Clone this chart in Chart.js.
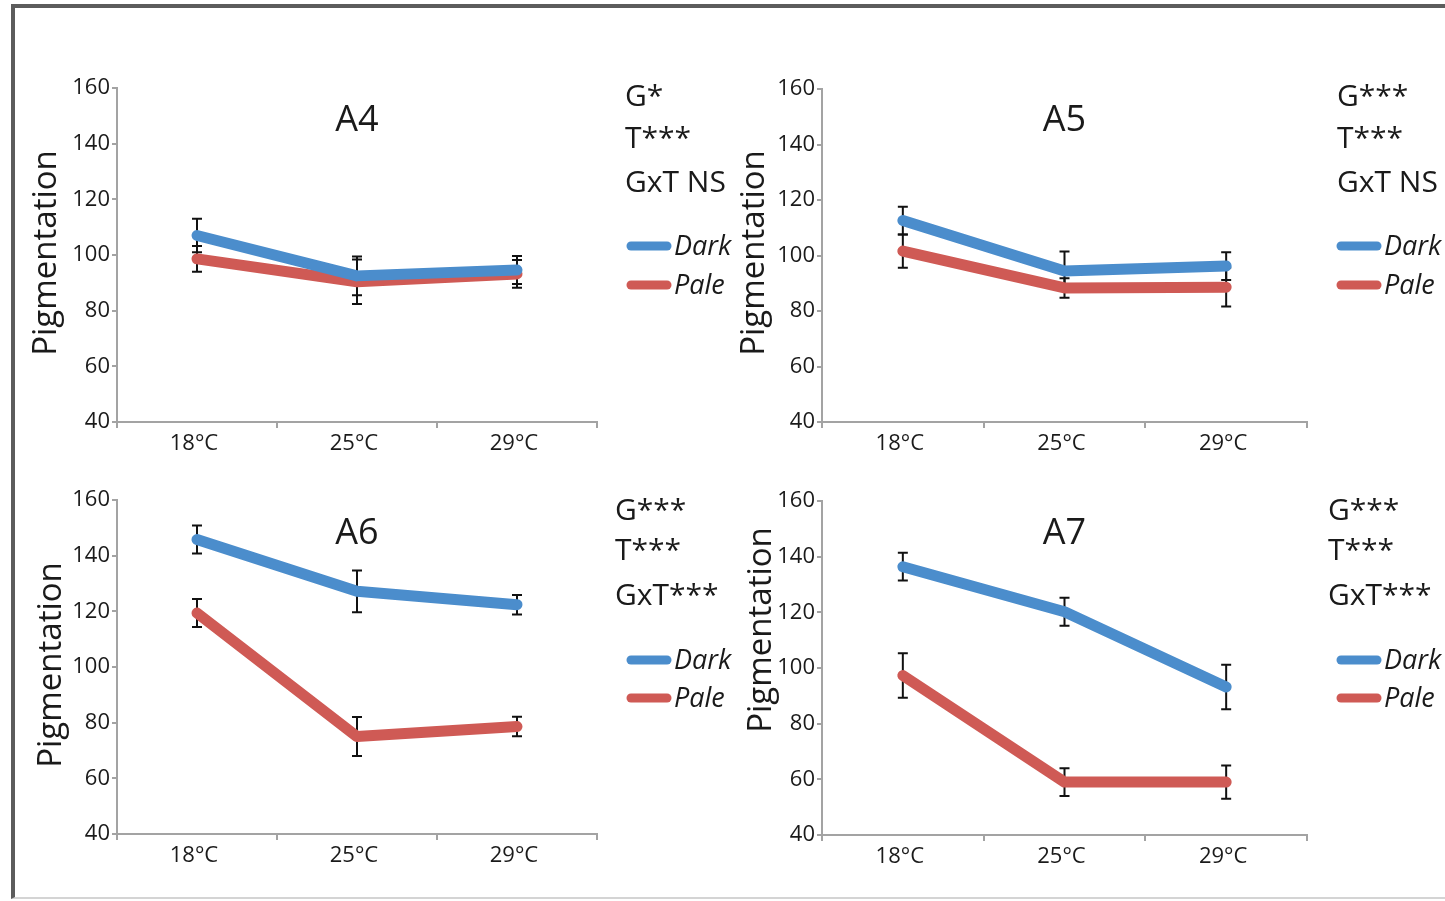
<!DOCTYPE html>
<html><head><meta charset="utf-8">
<script src="https://cdn.jsdelivr.net/npm/chart.js@4.4.1/dist/chart.umd.min.js"></script>
<style>
html,body{margin:0;padding:0;background:#fff;width:1445px;height:901px;overflow:hidden}
#frame{position:absolute;left:11px;top:4px;width:1460px;height:895px;border-top:4px solid #5c5c5c;border-left:4px solid #5c5c5c;border-bottom:2px solid #d4d4d4;box-sizing:border-box}
canvas{position:absolute;left:0;top:0}
</style></head><body>
<div id="frame"></div>
<canvas id="c4" width="1445" height="901"></canvas>
<canvas id="c5" width="1445" height="901"></canvas>
<canvas id="c6" width="1445" height="901"></canvas>
<canvas id="c7" width="1445" height="901"></canvas>
<script>
// ---- data ----
const temps = ['18°C', '25°C', '29°C'];
const yMin = 40, yMax = 160, yStep = 20;
const seriesNames = ['Dark', 'Pale'];
const axisTitle = 'Pigmentation';

const a4Dark = [107.0, 92.5, 94.6];
const a4DarkErr = [6.0, 7.0, 5.0];
const a4Pale = [98.6, 90.4, 93.2];
const a4PaleErr = [4.6, 8.0, 5.0];

const a5Dark = [112.6, 94.4, 96.2];
const a5DarkErr = [5.0, 7.0, 5.0];
const a5Pale = [101.6, 88.3, 88.6];
const a5PaleErr = [6.0, 3.5, 7.0];

const a6Dark = [145.8, 127.2, 122.4];
const a6DarkErr = [5.0, 7.5, 3.5];
const a6Pale = [119.4, 75.0, 78.6];
const a6PaleErr = [5.0, 7.0, 3.5];

const a7Dark = [136.4, 120.2, 93.2];
const a7DarkErr = [5.0, 5.0, 8.0];
const a7Pale = [97.3, 59.0, 59.0];
const a7PaleErr = [8.0, 5.0, 6.0];

const a4Stats = ['G*', 'T***', 'GxT NS'];
const a5Stats = ['G***', 'T***', 'GxT NS'];
const a6Stats = ['G***', 'T***', 'GxT***'];
const a7Stats = ['G***', 'T***', 'GxT***'];

// ---- styles / layout ----
const BLUE = '#4b8dcc';
const RED = '#cf5a55';
const AXIS = '#a3a3a3';
const TXT = '#1a1a1a';
const FONT = '"Open Sans", "Liberation Sans", sans-serif';
const Y_W = 60, X_H = 40;

const panels = [
  {id:'c4', title:'A4', dark:a4Dark, darkErr:a4DarkErr, pale:a4Pale, paleErr:a4PaleErr, stats:a4Stats,
   area:{l:117, r:597, t:88, b:422}, statsX:625, statsBase:[106,148,192], legX:627, legY:[246,285], yTitle:{x:47, y:253}, titleY:131},
  {id:'c5', title:'A5', dark:a5Dark, darkErr:a5DarkErr, pale:a5Pale, paleErr:a5PaleErr, stats:a5Stats,
   area:{l:822, r:1307, t:89, b:422}, statsX:1337, statsBase:[106,148,192], legX:1337, legY:[246,285], yTitle:{x:755, y:253}, titleY:131},
  {id:'c6', title:'A6', dark:a6Dark, darkErr:a6DarkErr, pale:a6Pale, paleErr:a6PaleErr, stats:a6Stats,
   area:{l:117, r:597, t:500, b:834}, statsX:615, statsBase:[520,560,605], legX:627, legY:[660,698], yTitle:{x:52, y:665}, titleY:544},
  {id:'c7', title:'A7', dark:a7Dark, darkErr:a7DarkErr, pale:a7Pale, paleErr:a7PaleErr, stats:a7Stats,
   area:{l:822, r:1307, t:501, b:835}, statsX:1328, statsBase:[520,560,605], legX:1337, legY:[660,698], yTitle:{x:762, y:630}, titleY:544}
];

const errorBars = {
  id:'errorBars',
  beforeDatasetsDraw(chart){
    const ctx = chart.ctx, ys = chart.scales.y;
    ctx.save();
    ctx.strokeStyle = '#111'; ctx.lineWidth = 2;
    chart.data.datasets.forEach((ds, i) => {
      const meta = chart.getDatasetMeta(i);
      ds.data.forEach((v, j) => {
        const e = ds.errors[j];
        const x = meta.data[j].x;
        const y1 = ys.getPixelForValue(v + e), y2 = ys.getPixelForValue(v - e);
        ctx.beginPath();
        ctx.moveTo(x, y1); ctx.lineTo(x, y2);
        ctx.moveTo(x - 5, y1); ctx.lineTo(x + 5, y1);
        ctx.moveTo(x - 5, y2); ctx.lineTo(x + 5, y2);
        ctx.stroke();
      });
    });
    ctx.restore();
  }
};

const decorations = {
  id:'decorations',
  afterDraw(chart, args, opts){
    const p = opts.panel, ctx = chart.ctx, ca = chart.chartArea;
    ctx.save();
    ctx.fillStyle = TXT;
    // panel title
    ctx.font = '36px ' + FONT;
    ctx.textAlign = 'center'; ctx.textBaseline = 'alphabetic';
    ctx.fillText(p.title, (ca.left + ca.right) / 2, p.titleY);
    // stats
    ctx.font = '30px ' + FONT;
    ctx.textAlign = 'left';
    p.stats.forEach((s, i) => ctx.fillText(s, p.statsX, p.statsBase[i]));
    // legend
    const cols = [BLUE, RED];
    ctx.font = 'italic 27px ' + FONT;
    ctx.textBaseline = 'middle';
    seriesNames.forEach((n, i) => {
      const y = p.legY[i];
      ctx.strokeStyle = cols[i]; ctx.lineWidth = 9; ctx.lineCap = 'round';
      ctx.beginPath(); ctx.moveTo(p.legX + 4, y); ctx.lineTo(p.legX + 40, y); ctx.stroke();
      ctx.fillStyle = TXT;
      ctx.fillText(n, p.legX + 47, y + 1);
    });
    // y axis title
    ctx.translate(p.yTitle.x, p.yTitle.y);
    ctx.rotate(-Math.PI / 2);
    ctx.font = '33px ' + FONT;
    ctx.textAlign = 'center'; ctx.textBaseline = 'middle';
    ctx.fillText(axisTitle, 0, 0);
    ctx.restore();
  }
};

panels.forEach(p => {
  const a = p.area;
  new Chart(document.getElementById(p.id), {
    type:'line',
    data:{
      labels: temps,
      datasets:[
        {label:seriesNames[0], data:p.dark, errors:p.darkErr, borderColor:BLUE, borderWidth:11, pointRadius:0,
         tension:0, borderCapStyle:'round', borderJoinStyle:'round', fill:false},
        {label:seriesNames[1], data:p.pale, errors:p.paleErr, borderColor:RED, borderWidth:11, pointRadius:0,
         tension:0, borderCapStyle:'round', borderJoinStyle:'round', fill:false}
      ]
    },
    options:{
      responsive:false, animation:false, devicePixelRatio:1,
      layout:{padding:{left:a.l - Y_W, right:1445 - a.r, top:a.t, bottom:901 - a.b - X_H}},
      plugins:{legend:{display:false}, tooltip:{enabled:false}, title:{display:false}, decorations:{panel:p}},
      scales:{
        x:{
          offset:true,
          grid:{drawOnChartArea:false, offset:true, drawTicks:true, tickLength:6, color:AXIS, lineWidth:2},
          border:{display:true, color:AXIS, width:2},
          ticks:{font:{family:FONT, size:22}, color:TXT, padding:3, maxRotation:0, labelOffset:-3},
          afterFit(s){ s.height = X_H; }
        },
        y:{
          min:yMin, max:yMax,
          grid:{drawOnChartArea:false, drawTicks:true, tickLength:5, color:AXIS, lineWidth:2},
          border:{display:true, color:AXIS, width:2},
          ticks:{stepSize:yStep, font:{family:FONT, size:22}, color:TXT, padding:2},
          afterFit(s){ s.width = Y_W; }
        }
      }
    },
    plugins:[errorBars, decorations]
  });
});
</script>
</body></html>
